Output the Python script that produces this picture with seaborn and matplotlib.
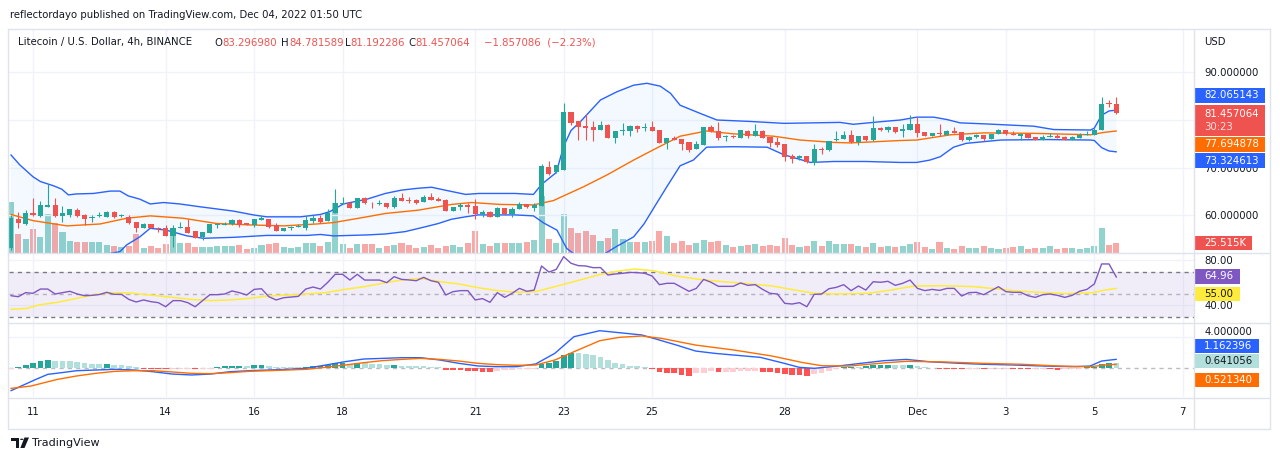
import numpy as np
import pandas as pd
import seaborn as sns
import matplotlib
matplotlib.use("Agg")
import matplotlib.pyplot as plt
from matplotlib.patches import Rectangle, Circle, Polygon
from matplotlib.lines import Line2D
from matplotlib.ticker import FormatStrFormatter, FuncFormatter

# LTC/USD 4h candles, first candle 2022-11-10 12:00 UTC
start = pd.Timestamp("2022-11-10 12:00")

open_ = [53.2, 59.2, 58.3, 60.6, 59.9, 61.8, 62.2, 59.9, 60.1, 61.1,
         60.1, 59.4, 59.8, 59.7, 60.7, 59.8, 59.7, 58.6, 57.4, 58.2,
         57.4, 57.4, 55.7, 57.4, 57.6, 56.7, 55.5, 56.4, 58.0, 58.05,
         58.1, 59.0, 58.5, 57.9, 59.1, 59.2, 57.9, 56.8, 57.45, 57.5,
         57.4, 58.8, 59.5, 58.9, 60.5, 62.4, 62.6, 61.6, 63.6, 62.7,
         62.45, 62.5, 61.8, 63.6, 63.2, 63.2, 62.9, 63.8, 63.4, 63.2,
         60.9, 61.8, 62.2, 62.0, 60.2, 60.8, 59.7, 61.6, 60.3, 61.3,
         62.4, 61.6, 62.05, 70.1, 69.0, 69.5, 81.7, 79.8, 78.8, 78.6,
         77.9, 78.9, 76.3, 77.6, 77.6, 78.7, 78.3, 78.6, 77.8, 75.2,
         76.3, 76.0, 75.3, 73.9, 74.8, 78.6, 77.7, 76.45, 76.7, 76.3,
         77.7, 76.7, 77.6, 76.4, 75.3, 74.97, 72.5, 72.0, 72.5, 70.9,
         74.0, 73.7, 75.8, 76.0, 76.9, 75.3, 76.6, 75.8, 78.4, 77.9,
         78.6, 77.6, 77.9, 79.2, 77.5, 76.7, 77.3, 76.9, 77.7, 77.4,
         75.9, 76.5, 76.9, 76.1, 77.0, 77.9, 77.1, 76.7, 77.1, 76.4,
         75.8, 76.4, 76.6, 76.4, 75.9, 76.3, 76.8, 76.9, 77.8, 83.5,
         83.296980]
high_ = [60.0, 60.8, 61.1, 63.7, 63.0, 66.6, 63.6, 62.0, 61.3, 61.5,
         60.2, 60.1, 60.8, 61.0, 61.0, 60.3, 60.1, 58.6, 58.4, 58.3,
         57.6, 57.9, 57.9, 58.7, 59.3, 56.7, 56.6, 58.1, 58.3, 58.7,
         59.2, 59.3, 58.5, 59.3, 59.9, 59.2, 58.4, 57.4, 57.7, 58.3,
         59.9, 60.1, 60.0, 61.3, 65.5, 63.9, 62.9, 63.7, 63.9, 62.9,
         63.2, 62.7, 64.0, 64.6, 63.9, 63.4, 64.3, 64.6, 63.8, 63.4,
         61.8, 62.5, 62.5, 63.4, 61.1, 60.9, 61.8, 61.6, 61.8, 62.9,
         62.4, 62.5, 70.8, 71.5, 70.5, 83.5, 81.7, 79.8, 81.2, 79.8,
         79.8, 79.1, 77.6, 79.3, 78.9, 78.9, 79.4, 79.8, 77.8, 76.3,
         76.6, 76.0, 75.3, 75.5, 78.6, 78.9, 79.6, 76.9, 76.9, 77.9,
         77.9, 79.2, 77.9, 76.4, 76.5, 74.97, 72.8, 72.7, 72.5, 75.0,
         74.3, 75.6, 77.6, 77.6, 77.8, 76.6, 76.6, 80.8, 78.6, 78.8,
         78.6, 79.1, 81.0, 80.6, 77.5, 77.3, 79.2, 77.9, 78.5, 77.4,
         76.6, 77.1, 76.9, 77.1, 78.1, 78.0, 77.6, 77.1, 77.3, 76.4,
         76.9, 77.2, 77.0, 76.6, 76.6, 77.2, 77.6, 78.4, 84.8, 84.1,
         84.781589]
low_ = [52.8, 57.3, 58.0, 59.9, 59.7, 61.7, 59.7, 58.7, 59.6, 59.6,
        58.0, 58.7, 59.7, 59.6, 59.4, 59.6, 58.3, 56.6, 57.3, 57.3,
        56.6, 55.7, 53.3, 57.3, 56.4, 55.2, 54.8, 56.4, 57.3, 58.0,
        58.0, 57.6, 57.9, 57.6, 59.1, 57.4, 56.8, 56.8, 56.95, 57.5,
        56.9, 58.5, 58.5, 58.9, 60.5, 62.3, 61.6, 61.6, 62.4, 61.6,
        62.2, 61.5, 61.6, 63.1, 62.7, 62.4, 62.9, 63.2, 63.1, 60.9,
        60.9, 61.1, 60.4, 59.2, 59.7, 59.7, 59.7, 60.1, 59.7, 61.3,
        61.5, 61.0, 62.05, 68.5, 68.8, 69.5, 78.9, 75.9, 75.9, 75.6,
        77.9, 76.2, 75.2, 76.8, 76.6, 77.4, 77.6, 77.6, 75.2, 73.9,
        75.8, 73.7, 73.2, 73.9, 74.8, 77.4, 75.8, 75.7, 76.3, 76.2,
        76.2, 76.6, 76.2, 74.3, 74.3, 71.3, 70.9, 71.6, 70.9, 70.6,
        72.9, 73.6, 75.5, 76.0, 75.1, 74.8, 75.7, 75.5, 77.7, 77.4,
        77.2, 76.5, 77.8, 76.5, 76.6, 76.6, 76.6, 76.8, 77.3, 75.5,
        75.6, 76.3, 75.5, 76.1, 77.0, 76.9, 76.8, 75.9, 76.3, 75.9,
        75.8, 76.4, 76.3, 75.9, 75.8, 76.2, 76.8, 76.9, 77.8, 82.8,
        81.192286]
close_ = [59.5, 58.5, 60.4, 60.0, 62.2, 62.2, 59.9, 60.6, 61.3, 59.9,
          59.2, 59.7, 59.95, 60.7, 59.7, 60.0, 58.5, 57.4, 58.3, 57.3,
          57.2, 55.7, 57.4, 57.6, 56.4, 55.3, 56.6, 58.1, 58.3, 58.15,
          59.0, 58.0, 57.9, 59.2, 59.5, 57.6, 56.8, 57.4, 57.55, 57.8,
          59.0, 59.5, 58.7, 60.5, 62.5, 62.6, 61.6, 63.7, 62.5, 62.5,
          62.6, 61.8, 63.7, 63.1, 63.0, 62.7, 63.9, 63.2, 63.1, 60.9,
          61.8, 62.2, 61.8, 60.2, 60.8, 59.7, 61.5, 60.3, 61.3, 62.4,
          61.7, 62.2, 70.4, 68.7, 70.5, 81.7, 79.3, 78.6, 78.3, 77.9,
          78.9, 76.2, 77.6, 77.8, 78.8, 78.1, 78.5, 77.6, 75.2, 76.3,
          75.8, 75.0, 73.7, 75.0, 78.5, 77.6, 76.2, 76.65, 76.5, 77.8,
          76.6, 77.6, 76.2, 75.1, 74.8, 72.3, 71.8, 72.4, 71.1, 73.9,
          73.7, 75.6, 76.0, 76.9, 75.3, 76.6, 75.8, 78.4, 77.9, 78.5,
          77.4, 78.1, 79.2, 77.3, 76.7, 77.2, 77.0, 77.7, 77.3, 75.9,
          76.5, 76.9, 76.0, 77.1, 77.9, 77.0, 76.8, 77.0, 76.3, 75.9,
          76.4, 76.6, 76.3, 75.9, 76.4, 76.9, 77.1, 77.9, 83.4, 83.31415,
          81.457064]
volume_k = [133, 48, 35, 61, 40, 101, 77, 53, 30, 27,
            27, 27, 27, 19, 17, 14, 17, 48, 11, 17,
            11, 22, 46, 25, 25, 14, 14, 14, 17, 17,
            17, 19, 9, 11, 19, 22, 25, 14, 11, 14,
            25, 25, 17, 27, 129, 22, 11, 22, 22, 22,
            11, 17, 19, 24, 19, 12, 14, 19, 12, 17,
            19, 14, 25, 56, 22, 17, 25, 25, 25, 25,
            28, 32, 148, 35, 25, 100, 65, 50, 56, 46,
            31, 39, 61, 35, 28, 28, 28, 30, 56, 43,
            25, 30, 19, 25, 32, 28, 30, 19, 15, 17,
            19, 22, 17, 19, 17, 38, 19, 14, 17, 30,
            17, 30, 22, 22, 22, 17, 14, 25, 14, 17,
            14, 17, 22, 27, 14, 9, 27, 11, 9, 17,
            11, 11, 17, 11, 9, 11, 14, 17, 9, 11,
            11, 17, 9, 11, 11, 9, 11, 17, 64, 19,
            25.515]

# Bollinger Bands (20, 2) read as vertices: candle index / price
bb_upper_x = [0, 1.2, 3, 4, 5.8, 6.9, 7.8, 8.9, 11.2, 13.5, 14.8, 15.9, 17.5, 18.9, 20.7,
              22.9, 25.7, 30.2, 32.9, 34.7, 39.3, 42, 43.3, 45.1, 48.3, 50.8, 53, 55.3,
              57.1, 58.9, 61.7, 63.5, 68.4, 70.9, 72, 74, 75, 76, 77.3, 80, 82.2, 84.5,
              86.3, 88.1, 89.5, 90.8, 93.5, 95.8, 100.3, 104.9, 112.5, 114.3, 118.4,
              120.7, 122.9, 125.2, 127, 128.8, 132, 138.8, 141.5, 146.5, 147, 148, 149, 150]
bb_upper_y = [72.7, 70.6, 68.1, 67.1, 66.2, 65.5, 64.3, 64.5, 64.6, 65.1, 65.1, 64.1, 63.4, 62.4, 62.7,
              62.4, 61.8, 60.9, 60.1, 59.7, 59.7, 60.2, 60.8, 62.4, 63.4, 64.6, 65.3, 65.7,
              65.9, 65.3, 64.4, 64.6, 64.6, 64.4, 66.5, 69.0, 74.5, 77.8, 79.7, 84.2, 85.9, 87.3,
              87.7, 87.1, 85.6, 83.1, 81.4, 80.0, 79.7, 79.3, 79.5, 79.1, 79.7,
              80.0, 80.6, 80.6, 80.1, 79.4, 79.2, 78.7, 78.0, 77.9, 78.3, 81.0, 81.9, 82.065143]
bb_lower_x = [0, 4, 8, 12, 14.8, 15.7, 17.5, 18.9, 21.1, 23.9, 26.1, 30.2, 34.7, 40.2, 42,
              43.8, 48.3, 50.8, 53.5, 56.2, 58, 59.8, 61.7, 63.4, 68.4, 70.9, 72.3, 74.1,
              75.4, 76.5, 78.5, 80.4, 82.2, 84.5, 85.9, 87.6, 89, 90.8, 92.6, 94.4, 98,
              102.6, 104.9, 108.5, 111.6, 116, 120.7, 122.9, 124.7, 126.1, 127.9, 129.6,
              134.3, 140.5, 146.5, 147, 148, 149, 150]
bb_lower_y = [47.7, 49.5, 51.2, 51.6, 52.4, 53.8, 55.5, 57.3, 56.9, 55.7, 55.2, 55.4, 55.8, 55.8, 56.0,
              55.7, 55.9, 56.1, 56.6, 57.6, 58.3, 59.2, 59.7, 60.1, 60.1, 59.9, 58.4, 56.9,
              53.1, 51.8, 51.0, 51.8, 53.5, 55.5, 58.2, 62.5, 66.0, 70.4, 71.6, 74.3, 74.4,
              74.3, 72.7, 71.1, 71.3, 71.3, 71.1, 71.1, 71.6, 72.3, 74.3, 75.1,
              75.8, 75.9, 75.8, 75.7, 74.2, 73.5, 73.324613]
bb_basis_x = [0, 3, 7.6, 12.1, 15.7, 18.9, 23.4, 27.9, 32.5, 37, 41.5, 43.8, 48.3, 50.8, 55.3,
              59.8, 62.5, 66.4, 70.9, 73.6, 77.7, 80.9, 84.5, 87.6, 90.8, 94.4, 98, 103.5,
              107.1, 111.6, 113.9, 120.7, 122.9, 127.5, 132, 138.8, 146.5, 148.3, 150]
bb_basis_y = [60.2, 58.9, 57.8, 58.2, 59.4, 59.9, 59.4, 58.3, 58.0, 57.8, 58.2, 58.5, 59.7, 60.4, 61.1,
              62.3, 62.7, 62.3, 62.2, 63.1, 66.0, 68.5, 71.6, 74.1, 76.6, 77.7, 77.1, 76.6,
              75.8, 75.3, 75.2, 75.7, 75.8, 76.9, 77.3, 77.2, 76.9, 77.4, 77.694878]

# RSI (14), one value per candle
rsi = [48.5, 47.6, 51.2, 50.6, 54.4, 54.4, 50.0, 51.2, 52.4, 50.0,
       48.5, 48.8, 49.5, 51.5, 49.7, 49.7, 45.2, 42.9, 44.7, 43.2,
       42.3, 38.7, 44.1, 44.1, 42.3, 38.7, 44.1, 49.4, 49.4, 50.0,
       52.7, 51.2, 49.1, 54.1, 54.7, 47.6, 44.7, 46.7, 47.3, 47.9,
       54.4, 56.2, 54.4, 60.4, 67.5, 67.5, 62.4, 67.5, 62.4, 62.4,
       62.4, 60.1, 65.4, 63.0, 62.5, 61.8, 64.8, 61.8, 60.4, 49.1,
       52.1, 53.0, 53.0, 44.7, 45.9, 42.6, 51.2, 47.0, 50.6, 55.0,
       52.4, 53.5, 74.9, 69.5, 71.9, 83.2, 77.3, 75.2, 74.9, 73.4,
       73.5, 66.9, 67.8, 68.4, 69.2, 69.0, 68.4, 66.0, 58.3, 59.5,
       59.5, 55.9, 52.4, 55.0, 63.0, 60.4, 56.8, 56.8, 56.8, 59.8,
       57.7, 58.3, 54.1, 50.6, 50.0, 41.7, 41.1, 42.3, 38.7, 49.7,
       50.0, 54.7, 55.9, 58.3, 53.0, 57.1, 53.5, 60.9, 60.4, 61.3,
       57.7, 59.5, 62.4, 55.0, 53.0, 54.1, 53.2, 55.0, 55.0, 48.2,
       51.2, 51.5, 49.4, 53.0, 56.5, 52.1, 51.5, 51.5, 48.5, 47.0,
       49.4, 50.0, 48.8, 47.0, 48.8, 52.4, 54.1, 58.9, 76.7, 76.7,
       64.96]
rsi_ma_x = [0, 2.2, 3.7, 6.3, 8.9, 11.5, 14.1, 16.7, 19.3, 21.9, 24.5, 27.1, 29.7, 32.3, 34.9,
            37.5, 40.1, 42.7, 45.3, 47.9, 50.4, 53, 55.6, 58.2, 60.8, 63.4, 66, 68.6, 71.2,
            73.8, 76.4, 79.9, 82.5, 84.6, 87.2, 90.3, 93.4, 96.5, 99.6, 103.3, 105.9, 109,
            112.2, 116.3, 119.4, 122.5, 126.6, 130.8, 134.4, 137, 139.6, 143.3, 146.9, 148.4, 150]
rsi_ma_y = [36.4, 37.2, 40.2, 42.6, 46.1, 49.7, 51.2, 50.6, 48.8, 47.0, 45.2, 44.1, 44.7, 46.1, 48.2,
            49.1, 50.0, 51.2, 54.1, 56.5, 59.5, 62.4, 63.9, 61.0, 58.9, 55.6, 53.0, 51.5, 52.1,
            56.5, 61.0, 67.3, 70.4, 72.2, 70.7, 66.0, 63.0, 61.0, 59.5, 57.1, 54.1, 50.6,
            50.0, 50.6, 53.5, 57.1, 57.4, 56.5, 54.1, 52.4, 51.5, 50.3, 51.2, 53.5, 55.0]

# MACD (12, 26, 9)
macd_x = [0, 1.7, 3.2, 5, 6.8, 8.9, 11.5, 14.1, 16.7, 19.3, 21.9, 24.5, 27.1, 29.7, 32.3, 34.9,
          37.5, 40.1, 42.7, 45.3, 47.9, 50.4, 53, 55.6, 58.2, 60.8, 63.4, 66, 68.6, 71.2, 73.8,
          76.4, 79.9, 82.5, 85.6, 87.7, 90.3, 92.9, 95.5, 98.1, 101.7, 104.9, 107, 109, 112.2,
          115.3, 118.4, 121.5, 124.6, 128.8, 131.9, 136, 140.2, 144.3, 146.4, 148, 150]
macd_y = [-2.89, -2.16, -1.51, -0.78, -0.57, -0.31, -0.22, -0.13, -0.22, -0.44, -0.74, -0.86, -0.74,
          -0.44, -0.31, -0.22, -0.13, 0.0, 0.42, 0.85, 1.2, 1.28, 1.37, 1.37, 1.07, 0.64, 0.3, 0.21,
          0.21, 0.56, 1.93, 4.08, 4.85, 4.6, 4.3, 3.73, 3.0, 2.23, 1.93, 1.71, 1.41, 0.65, 0.12, 0.0,
          0.29, 0.64, 0.98, 1.15, 0.85, 0.64, 0.52, 0.43, 0.29, 0.21, 0.29, 0.94, 1.162396]
signal_x = [0, 2.7, 6.3, 8.9, 11.5, 14.1, 16.7, 19.3, 21.9, 24.5, 27.1, 29.7, 32.3, 34.9, 37.5,
            40.1, 42.7, 45.3, 47.9, 50.4, 53, 55.6, 58.2, 60.8, 63.4, 66, 68.6, 71.2, 73.8, 76.4,
            79.9, 82.5, 85.6, 88.3, 92.9, 98.1, 103.3, 107.5, 110, 113.7, 118.9, 121.5, 126.7,
            131.9, 137.1, 142.3, 146.4, 148.5, 150]
signal_y = [-2.59, -2.29, -1.43, -0.99, -0.65, -0.39, -0.31, -0.31, -0.47, -0.65, -0.69, -0.56,
            -0.39, -0.31, -0.22, -0.13, 0.13, 0.42, 0.73, 0.99, 1.15, 1.28, 1.15, 0.94, 0.64, 0.47,
            0.39, 0.42, 1.07, 2.14, 3.56, 3.99, 4.17, 3.86, 3.0, 2.36, 1.58, 0.73, 0.34, 0.29, 0.73,
            0.9, 0.82, 0.64, 0.52, 0.29, 0.21, 0.42, 0.521340]
hist = [-0.13, 0.21, 0.43, 0.73, 0.95, 1.08, 0.95, 0.95, 0.95, 0.82,
        0.65, 0.56, 0.56, 0.58, 0.43, 0.43, 0.30, 0.17, -0.09, -0.11,
        -0.13, -0.15, -0.09, -0.09, -0.09, -0.13, -0.09, -0.04, 0.21, 0.30,
        0.32, 0.34, 0.26, 0.43, 0.45, 0.30, 0.17, 0.17, 0.17, 0.17,
        0.21, 0.30, 0.32, 0.43, 0.65, 0.67, 0.56, 0.65, 0.65, 0.56,
        0.56, 0.43, 0.45, 0.30, 0.30, 0.30, 0.30, 0.17, 0.17, -0.22,
        -0.24, -0.26, -0.30, -0.32, -0.43, -0.45, -0.30, -0.22, -0.22, -0.13,
        -0.09, -0.04, 0.52, 0.73, 0.95, 1.71, 1.92, 1.92, 1.83, 1.71,
        1.50, 1.08, 0.65, 0.52, 0.34, 0.26, 0.17, -0.09, -0.43, -0.56,
        -0.65, -0.86, -0.99, -0.65, -0.56, -0.39, -0.52, -0.47, -0.43, -0.39,
        -0.39, -0.34, -0.43, -0.52, -0.56, -0.73, -0.82, -0.86, -0.99, -0.73,
        -0.56, -0.30, -0.13, 0.21, 0.23, 0.13, 0.34, 0.39, 0.41, 0.43,
        0.39, 0.39, 0.43, 0.26, 0.13, 0.09, -0.09, -0.10, -0.11, -0.13,
        -0.09, -0.09, -0.13, -0.09, -0.04, -0.04, -0.09, -0.10, -0.13, -0.13,
        -0.09, -0.13, -0.17, -0.13, -0.09, -0.04, 0.13, 0.21, 0.52, 0.65,
        0.641056]

tick_dates = ["2022-11-11", "2022-11-14", "2022-11-16", "2022-11-18", "2022-11-21", "2022-11-23",
              "2022-11-25", "2022-11-28", "2022-12-01", "2022-12-03", "2022-12-05", "2022-12-07"]
tick_labels = ["11", "14", "16", "18", "21", "23", "25", "28", "Dec", "3", "5", "7"]

# colours
UP, DOWN = "#26a69a", "#ef5350"
BLUE, ORANGE, PURPLE, YELLOW = "#2962ff", "#ff6d00", "#7e57c2", "#ffeb3b"
DARK, GRID, BORDER = "#131722", "#f0f3fa", "#e0e3eb"

sns.set_theme(style="white")
plt.rcParams["font.family"] = ["DejaVu Sans"]
FS = 7.3

W, H = 1280, 461
fig = plt.figure(figsize=(W / 100, H / 100), dpi=100)
fig.patch.set_facecolor("white")


def fx(x):
    return x / W


def fy(y):
    return 1 - y / H


def rect(x0, y0, x1, y1):
    return [fx(x0), fy(y1), (x1 - x0) / W, (y1 - y0) / H]


XL, XR = 9, 1193.5
x_lim = ((XL - 10.9) / 7.37, (XR - 10.9) / 7.37)

o, h, l, c = map(np.array, (open_, high_, low_, close_))
idx = np.arange(len(c))
up = c >= o
ccol = np.where(up, UP, DOWN)
vcol = np.where(up, "#92d3cd", "#f7a9a7")
tick_idx = [(pd.Timestamp(d) - start) / pd.Timedelta("4h") for d in tick_dates]

# ---- main panel ----
ax_vol = fig.add_axes(rect(XL, 30, XR, 252.5))
ax = fig.add_axes(rect(XL, 30, XR, 252.5), sharex=ax_vol)
ax.set_facecolor("none")
ax_vol.bar(idx, volume_k, width=0.82, color=vcol, lw=0)
ax_vol.set_ylim(0, 585)
ax_vol.set_yticks([])

ax.fill(np.r_[bb_upper_x, bb_lower_x[::-1]], np.r_[bb_upper_y, bb_lower_y[::-1]],
        color="#2196f3", alpha=0.05, lw=0, zorder=1)
sns.lineplot(x=bb_upper_x, y=bb_upper_y, ax=ax, color=BLUE, linewidth=1, zorder=2)
sns.lineplot(x=bb_lower_x, y=bb_lower_y, ax=ax, color=BLUE, linewidth=1, zorder=2)
sns.lineplot(x=bb_basis_x, y=bb_basis_y, ax=ax, color=ORANGE, linewidth=1, zorder=2)
ax.vlines(idx, l, h, colors=ccol, lw=0.8, zorder=3)
ax.bar(idx, np.maximum(np.abs(c - o), 0.18), bottom=np.minimum(o, c), width=0.7,
       color=ccol, lw=0, zorder=4)
ax.set_ylim(52.22, 98.87)
ax.set_yticks([60, 70, 80, 90])
# the 80 label sits fully under the last-price tag, so it is left blank
ax.yaxis.set_major_formatter(FuncFormatter(lambda v, p: "" if round(v) == 80 else f"{v:.6f}"))

# ---- RSI panel ----
ax_rsi = fig.add_axes(rect(XL, 253.5, XR, 322.5), sharex=ax_vol)
ax_rsi.axhspan(30, 70, color=PURPLE, alpha=0.1, lw=0)
ax_rsi.axhline(70, color="#787b86", lw=1, ls=(0, (3, 3)))
ax_rsi.axhline(30, color="#787b86", lw=1, ls=(0, (3, 3)))
ax_rsi.axhline(50, color="#787b86", lw=1, ls=(0, (3, 3)), alpha=0.5)
sns.lineplot(x=rsi_ma_x, y=rsi_ma_y, ax=ax_rsi, color=YELLOW, linewidth=1.1)
sns.lineplot(x=idx, y=rsi, ax=ax_rsi, color=PURPLE, linewidth=1)
ax_rsi.set_ylim(24.67, 86.0)
ax_rsi.set_yticks([40, 80])
ax_rsi.yaxis.set_major_formatter(FormatStrFormatter("%.2f"))

# ---- MACD panel ----
ax_macd = fig.add_axes(rect(XL, 323.5, XR, 397), sharex=ax_vol)
hv = np.array(hist)
prev = np.r_[hv[0], hv[:-1]]
hcol = np.where(hv >= 0, np.where(hv > prev, UP, "#b2dfdb"),
                np.where(hv < prev, "#ff5252", "#ffcdd2"))
ax_macd.axhline(0, color="#787b86", lw=1, ls=(0, (3, 3)), alpha=0.5)
ax_macd.bar(idx, hv, width=0.78, color=hcol, lw=0, zorder=2)
sns.lineplot(x=macd_x, y=macd_y, ax=ax_macd, color=BLUE, linewidth=1, zorder=3)
sns.lineplot(x=signal_x, y=signal_y, ax=ax_macd, color=ORANGE, linewidth=1, zorder=3)
ax_macd.set_ylim(-3.70, 5.78)
ax_macd.set_yticks([4])
ax_macd.yaxis.set_major_formatter(FormatStrFormatter("%.6f"))

for a in (ax, ax_rsi, ax_macd):
    a.set_xlim(*x_lim)
    a.set_xticks(tick_idx)
    a.grid(True, color=GRID, lw=1)
    a.set_axisbelow(True)
    a.yaxis.tick_right()
    a.tick_params(axis="y", length=0, pad=7.9, labelsize=FS, labelcolor=DARK)
    a.tick_params(axis="x", length=0, labelbottom=False)
    a.set_xlabel("")
    a.set_ylabel("")
    for s in a.spines.values():
        s.set_visible(False)
ax_macd.set_xticks(tick_idx, tick_labels)
ax_macd.tick_params(axis="x", labelbottom=True, pad=7.5, labelsize=FS, labelcolor=DARK)
ax_macd.tick_params(axis="y", pad=7.9)
for t in ax_macd.get_yticklabels():
    t.set_va("bottom")
for s in ax_vol.spines.values():
    s.set_visible(False)
ax_vol.tick_params(axis="x", labelbottom=False, length=0)

# ---- frame lines ----
def hline(y, x0=8, x1=1270):
    fig.add_artist(Line2D([fx(x0), fx(x1)], [fy(y), fy(y)], color=BORDER, lw=1))


def vline(x, y0=29, y1=429):
    fig.add_artist(Line2D([fx(x), fx(x)], [fy(y0), fy(y1)], color=BORDER, lw=1))


for yy in (29, 253, 323, 397.5, 429):
    hline(yy)
for xx in (8, 1194, 1270):
    vline(xx)

# ---- value tags on the price scale ----
def tag(yc, text, bg, fg="white", x1=1265, hh=14.5):
    fig.add_artist(Rectangle((fx(1194), fy(yc + hh / 2)), (x1 - 1194) / W, hh / H,
                             transform=fig.transFigure, color=bg, lw=0))
    fig.text(fx(1204), fy(yc), text, color=fg, fontsize=FS, ha="left", va="center")


fig.text(fx(1204), fy(41.7), "USD", color=DARK, fontsize=FS, ha="left", va="center")
tag(95.5, f"{bb_upper_y[-1]:.6f}", BLUE)
fig.add_artist(Rectangle((fx(1194), fy(136)), 71 / W, 31 / H,
                         transform=fig.transFigure, color=DOWN, lw=0))
fig.text(fx(1204), fy(113.5), f"{close_[-1]:.6f}", color="white", fontsize=FS,
         ha="left", va="center")
fig.text(fx(1204), fy(127.5), "30:23", color="#fde0df", fontsize=FS, ha="left", va="center")
tag(144.3, f"{bb_basis_y[-1]:.6f}", ORANGE)
tag(160.5, f"{bb_lower_y[-1]:.6f}", BLUE)
tag(243, f"{volume_k[-1]:.3f}K", DOWN, x1=1252)
tag(276.3, f"{rsi[-1]:.2f}", PURPLE, x1=1240)
tag(293.8, f"{rsi_ma_y[-1]:.2f}", YELLOW, fg=DARK, x1=1240)
tag(346, f"{macd_y[-1]:.6f}", BLUE, x1=1259, hh=14)
tag(361, f"{hist[-1]:.6f}", "#b2dfdb", fg=DARK, x1=1259, hh=14)
tag(380, f"{signal_y[-1]:.6f}", ORANGE, x1=1259)

# ---- header texts ----
renderer = fig.canvas.get_renderer()


def run_text(x, y, parts, size=FS):
    for s, col in parts:
        t = fig.text(fx(x), fy(y), s, color=col, fontsize=size, ha="left", va="center")
        x += t.get_window_extent(renderer).width


fig.text(fx(10), fy(14.5), "reflectordayo published on TradingView.com, Dec 04, 2022 01:50 UTC",
         color=DARK, fontsize=FS, ha="left", va="center")
chg = close_[-1] - close_[-2]
pct = chg / close_[-2] * 100
run_text(18, 42.5, [("Litecoin / U.S. Dollar, 4h, BINANCE", DARK)])
run_text(214, 42.5, [("O", DARK), (f"{open_[-1]:.6f}", DOWN)])
run_text(281.5, 42.5, [("H", DARK), (f"{high_[-1]:.6f}", DOWN)])
run_text(345, 42.5, [("L", DARK), (f"{low_[-1]:.6f}", DOWN)])
run_text(408, 42.5, [("C", DARK), (f"{close_[-1]:.6f}", DOWN)])
run_text(484, 42.5, [(f"{chg:.6f}  ({pct:.2f}%)".replace("-", "\u2212"), DOWN)])

# ---- footer logo ----
tf = fig.transFigure
fig.add_artist(Rectangle((fx(11), fy(440.5)), 8 / W, 3 / H, transform=tf, color=DARK, lw=0))
fig.add_artist(Rectangle((fx(15.5), fy(448)), 3.5 / W, 10.5 / H, transform=tf, color=DARK, lw=0))
fig.add_artist(Circle((fx(21.8), fy(439.3)), 1.8 / W, transform=tf, color=DARK, lw=0))
fig.add_artist(Polygon([(fx(24.5), fy(437.5)), (fx(29), fy(437.5)), (fx(24.5), fy(448)),
                        (fx(20.3), fy(448))], closed=True, transform=tf, color=DARK, lw=0))
fig.text(fx(32.5), fy(443), "TradingView", color=DARK, fontsize=8, ha="left", va="center")

fig.savefig("out.png", dpi=100)
